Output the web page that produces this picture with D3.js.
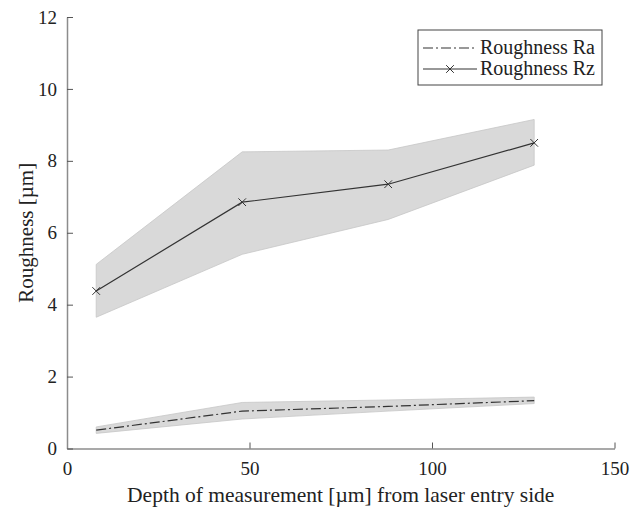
<!DOCTYPE html>
<html lang="en">
<head>
	<meta charset="UTF-8">
	<title>roughness</title>
	<script src="https://cdn.jsdelivr.net/npm/d3@7/dist/d3.min.js"></script>
	<style>
		body { margin: 0; background: #fff; }
	</style>
</head>
<body>
	<script>
	// depth of measurement [µm]
	let depth = [8, 48, 88, 128]
	// Ra mean and band
	let raMean = [0.51, 1.04, 1.17, 1.33]
	let raLow = [0.42, 0.82, 1.04, 1.25]
	let raHigh = [0.6, 1.28, 1.35, 1.43]
	// Rz mean and band
	let rzMean = [4.38, 6.85, 7.35, 8.5]
	let rzLow = [3.65, 5.4, 6.37, 7.88]
	let rzHigh = [5.12, 8.25, 8.3, 9.15]

	let xTicks = [0, 50, 100, 150]
	let yTicks = [0, 2, 4, 6, 8, 10, 12]

	let font = '"Liberation Serif", "Times New Roman", Times, serif'
	let width = 644, height = 511

	let svg = d3.select('body').append('svg')
		.attr('width', width)
		.attr('height', height)
		.style('font-family', font)

	let x = d3.scaleLinear().domain([0, 150]).range([67, 614.5])
	let y = d3.scaleLinear().domain([0, 12]).range([448.5, 17])

	let area = d3.area()
		.x((d, i) => x(depth[i]))
		.y0(d => y(d[0]))
		.y1(d => y(d[1]))
	let line = d3.line()
		.x((d, i) => x(depth[i]))
		.y(d => y(d))

	// bands
	let bands = [d3.zip(rzLow, rzHigh), d3.zip(raLow, raHigh)]
	svg.selectAll('path.band')
		.data(bands)
		.enter()
		.append('path')
		.attr('class', 'band')
		.attr('d', area)
		.attr('fill', '#d9d9d9')
		.attr('stroke', '#c6c6c6')
		.attr('stroke-width', 0.8)

	// Ra line
	svg.append('path')
		.attr('d', line(raMean))
		.attr('fill', 'none')
		.attr('stroke', '#333')
		.attr('stroke-width', 1.2)
		.attr('stroke-dasharray', '10,3,2,3')

	// Rz line + crosses
	svg.append('path')
		.attr('d', line(rzMean))
		.attr('fill', 'none')
		.attr('stroke', '#333')
		.attr('stroke-width', 1.2)

	let cross = d3.symbol().type(d3.symbolX).size(40)
	svg.selectAll('path.mark')
		.data(rzMean)
		.enter()
		.append('path')
		.attr('class', 'mark')
		.attr('d', cross)
		.attr('transform', (d, i) => `translate(${x(depth[i])},${y(d)})`)
		.attr('fill', 'none')
		.attr('stroke', '#333')
		.attr('stroke-width', 1)

	// axes
	let xAxis = d3.axisBottom(x).tickValues(xTicks).tickSizeInner(-6).tickSizeOuter(0).tickPadding(13)
	let yAxis = d3.axisLeft(y).tickValues(yTicks).tickSizeInner(-6).tickSizeOuter(0).tickPadding(10)

	let gx = svg.append('g')
		.attr('transform', `translate(0,${y(0)})`)
		.call(xAxis)
	let gy = svg.append('g')
		.attr('transform', `translate(${x(0)},0)`)
		.call(yAxis)

	for (let g of [gx, gy]) {
		g.attr('font-family', null).attr('font-size', null)
		g.select('.domain').attr('stroke', '#8c8c8c').attr('stroke-width', 1.5)
		g.selectAll('.tick line').attr('stroke', '#555').attr('stroke-width', 1)
		g.selectAll('.tick text')
			.style('font-family', font)
			.style('font-size', '19px')
			.attr('fill', '#222')
	}

	svg.append('text')
		.attr('x', x(75))
		.attr('y', 502)
		.attr('text-anchor', 'middle')
		.attr('fill', '#222')
		.style('font-family', font)
		.style('font-size', '21.5px')
		.text('Depth of measurement [µm] from laser entry side')

	svg.append('text')
		.attr('transform', `translate(33,${y(6)}) rotate(-90)`)
		.attr('text-anchor', 'middle')
		.attr('fill', '#222')
		.style('font-family', font)
		.style('font-size', '21px')
		.text('Roughness [µm]')

	// legend
	let lg = svg.append('g').attr('transform', 'translate(418,30)')
	lg.append('rect')
		.attr('width', 184)
		.attr('height', 55)
		.attr('fill', '#fff')
		.attr('stroke', '#444')
		.attr('stroke-width', 1)

	let legendItems = [
		{ label: 'Roughness Ra', dash: '10,3,2,3', mark: false },
		{ label: 'Roughness Rz', dash: null, mark: true }
	]
	legendItems.forEach((d, i) => {
		let yy = 18 + i * 21
		lg.append('line')
			.attr('x1', 5).attr('x2', 59)
			.attr('y1', yy).attr('y2', yy)
			.attr('stroke', '#333')
			.attr('stroke-width', 1.2)
			.attr('stroke-dasharray', d.dash)
		if (d.mark) {
			lg.append('path')
				.attr('d', cross)
				.attr('transform', `translate(32,${yy})`)
				.attr('fill', 'none')
				.attr('stroke', '#333')
		}
		lg.append('text')
			.attr('x', 62)
			.attr('y', yy + 6)
			.attr('fill', '#222')
			.style('font-family', font)
			.style('font-size', '20px')
			.text(d.label)
	})
	</script>
</body>
</html>
